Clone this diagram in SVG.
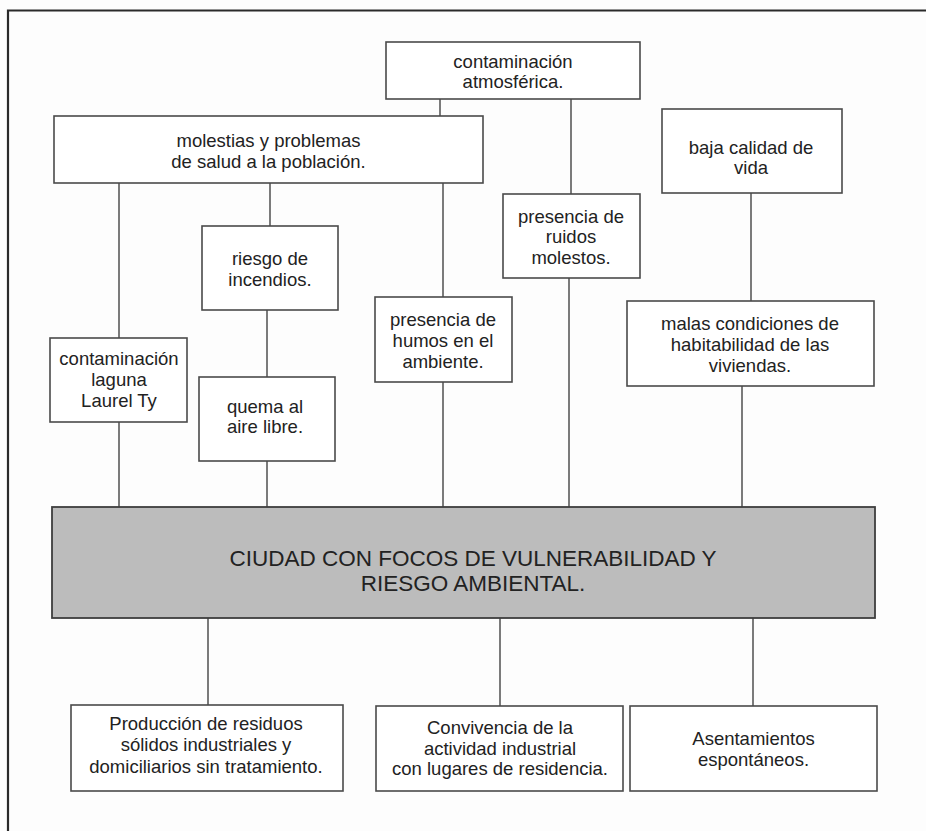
<svg xmlns="http://www.w3.org/2000/svg" width="926" height="831" viewBox="0 0 926 831">
<style>
.box{fill:#ffffff;stroke:#4a4a4a;stroke-width:1.6}
.main{fill:#bcbcbc;stroke:#3e3e3e;stroke-width:1.8}
.t{font-family:"Liberation Sans",Arial,sans-serif;font-size:18.5px;fill:#222;text-anchor:middle}
.tm{font-family:"Liberation Sans",Arial,sans-serif;font-size:22.5px;fill:#222;text-anchor:middle}
.c line{stroke:#5a5a5a;stroke-width:1.6}
</style>
<rect x="0" y="0" width="926" height="831" fill="#fdfdfd"/>
<path d="M8 840 V10.5 H930" fill="none" stroke="#2a2a2a" stroke-width="2.2"/>
<g class="c" id="connectors">
<line x1="440" y1="99" x2="440" y2="116"/>
<line x1="571" y1="99" x2="571" y2="194"/>
<line x1="119" y1="183" x2="119" y2="338"/>
<line x1="119" y1="422" x2="119" y2="507"/>
<line x1="270" y1="183" x2="270" y2="226"/>
<line x1="267" y1="310" x2="267" y2="377"/>
<line x1="267" y1="461" x2="267" y2="507"/>
<line x1="443" y1="183" x2="443" y2="297"/>
<line x1="443" y1="382" x2="443" y2="507"/>
<line x1="569" y1="278" x2="569" y2="507"/>
<line x1="751" y1="193" x2="751" y2="301"/>
<line x1="742" y1="386" x2="742" y2="507"/>
<line x1="208" y1="618" x2="208" y2="705"/>
<line x1="500" y1="618" x2="500" y2="706"/>
<line x1="753" y1="618" x2="753" y2="706"/>
</g>
<g id="atmosferica"><rect class="box" x="386" y="42" width="254" height="57"/>
<text class="t" x="513" y="67.5">contaminación</text><text class="t" x="513" y="87.5">atmosférica.</text></g>
<g id="molestias"><rect class="box" x="54" y="116" width="429" height="67"/>
<text class="t" x="268.5" y="146.5">molestias y problemas</text><text class="t" x="268.5" y="167.5">de salud a la población.</text></g>
<g id="baja"><rect class="box" x="662" y="109" width="180" height="84"/>
<text class="t" x="751" y="153.5">baja calidad de</text><text class="t" x="751" y="173.5">vida</text></g>
<g id="riesgo"><rect class="box" x="202" y="226" width="136" height="84"/>
<text class="t" x="270" y="264.5">riesgo de</text><text class="t" x="270" y="285.5">incendios.</text></g>
<g id="laguna"><rect class="box" x="50" y="338" width="137" height="84"/>
<text class="t" x="119" y="364.5">contaminación</text><text class="t" x="119" y="385.5">laguna</text><text class="t" x="119" y="406.5">Laurel Ty</text></g>
<g id="quema"><rect class="box" x="199" y="377" width="136" height="84"/>
<text class="t" x="265" y="412.5">quema al</text><text class="t" x="265" y="432.5">aire libre.</text></g>
<g id="humos"><rect class="box" x="375" y="297" width="137" height="85"/>
<text class="t" x="443" y="325.5">presencia de</text><text class="t" x="443" y="346.5">humos en el</text><text class="t" x="443" y="367.5">ambiente.</text></g>
<g id="ruidos"><rect class="box" x="503" y="194" width="137" height="84"/>
<text class="t" x="571" y="222.5">presencia de</text><text class="t" x="571" y="242.5">ruidos</text><text class="t" x="571" y="263.5">molestos.</text></g>
<g id="malas"><rect class="box" x="627" y="301" width="247" height="85"/>
<text class="t" x="750" y="329.5">malas condiciones de</text><text class="t" x="750" y="350.5">habitabilidad de las</text><text class="t" x="750" y="371.5">viviendas.</text></g>
<g id="ciudad"><rect class="main" x="52" y="507" width="823" height="111"/>
<text class="tm" x="473" y="566">CIUDAD CON FOCOS DE VULNERABILIDAD Y</text><text class="tm" x="473" y="591">RIESGO AMBIENTAL.</text></g>
<g id="produccion"><rect class="box" x="71" y="705" width="272" height="86"/>
<text class="t" x="206" y="729.5">Producción de residuos</text><text class="t" x="206" y="751">sólidos industriales y</text><text class="t" x="206" y="772.5">domiciliarios sin tratamiento.</text></g>
<g id="convivencia"><rect class="box" x="376" y="706" width="247" height="85"/>
<text class="t" x="500" y="733.5">Convivencia de la</text><text class="t" x="500" y="754.5">actividad industrial</text><text class="t" x="500" y="774.5">con lugares de residencia.</text></g>
<g id="asentamientos"><rect class="box" x="630" y="706" width="247" height="85"/>
<text class="t" x="753.5" y="744.5">Asentamientos</text><text class="t" x="753.5" y="765.5">espontáneos.</text></g>
</svg>
